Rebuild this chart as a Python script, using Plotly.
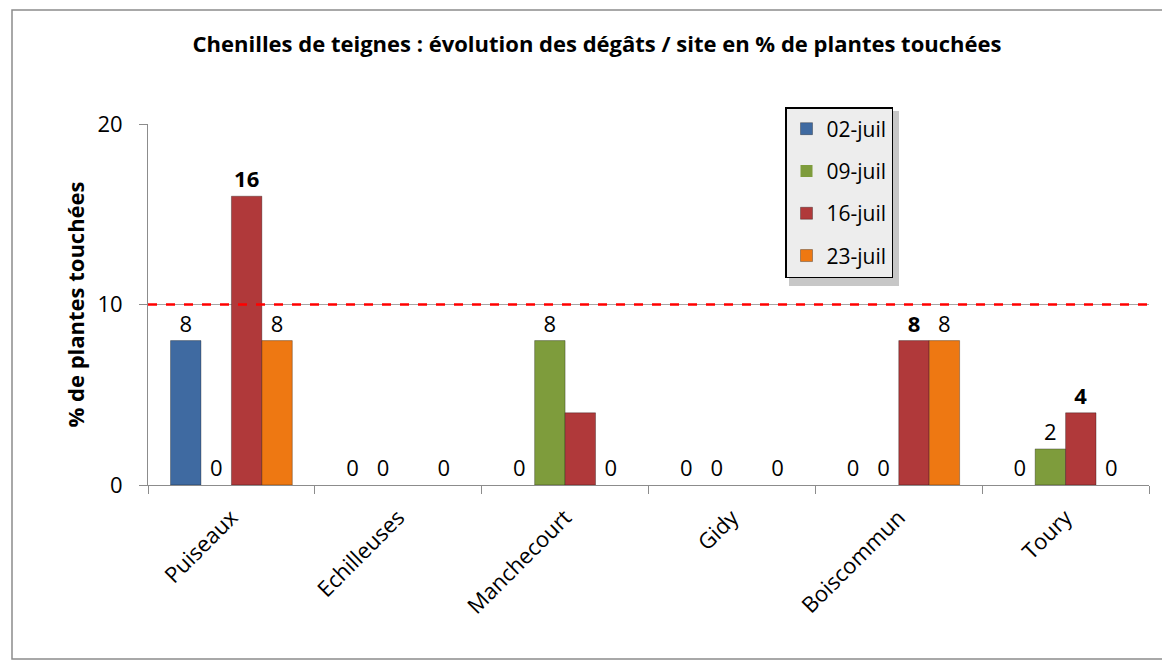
import plotly.graph_objects as go

sites = ["Puiseaux", "Echilleuses", "Manchecourt", "Gidy", "Boiscommun", "Toury"]
dates = ["02-juil", "09-juil", "16-juil", "23-juil"]
v_0207 = [8, 0, 0, 0, 0, 0]
v_0907 = [0, 0, 8, 0, 0, 2]
v_1607 = [16, None, 4, None, 8, 4]
v_2307 = [8, 0, 0, 0, 8, 0]
lbl_1607 = ["16", "", "", "", "8", "4"]
threshold = 10
colors = ["#3F6AA1", "#7E9C3C", "#B0393A", "#EE7812"]
title = "Chenilles de teignes : évolution des dégâts / site en % de plantes touchées"
ytitle = "% de plantes touchées"

FONT = "'Open Sans', Lato, sans-serif"
series = [v_0207, v_0907, v_1607, v_2307]

# page body has an 8px margin: figure pixel = screen pixel - 8
OFF = 8
PL, PT, PW, PH = 148 - OFF, 124 - OFF, 1001, 361

fig = go.Figure()
for i, (name, vals, col) in enumerate(zip(dates, series, colors)):
    if name == "16-juil":
        txt = lbl_1607
        tfont = dict(family=FONT, size=22, color="#000000", weight="bold")
    else:
        txt = ["" if v is None else str(v) for v in vals]
        tfont = dict(family=FONT, size=22, color="#000000")
    lw = [1 if v else 0 for v in vals]
    fig.add_trace(go.Bar(
        x=sites, y=vals, name=name, legendgroup=name,
        marker=dict(color=col, line=dict(color="rgba(0,0,0,0.3)", width=lw)),
        text=txt, textposition="outside", textfont=tfont,
        cliponaxis=False, textangle=0,
    ))

fig.add_shape(type="line", xref="paper", yref="y", x0=0, x1=1, y0=threshold, y1=threshold,
              line=dict(color="#FF0000", width=2.5, dash="dash"))
# outer chart border (screen pixel coords converted to paper)
def px(xs):
    return (xs - 148) / PW
def py(ys):
    return (485 - ys) / PH
fig.add_shape(type="rect", xref="paper", yref="paper",
              x0=px(12), x1=px(1167), y0=py(659), y1=py(10),
              line=dict(color="#8C8C8C", width=1.5), fillcolor="rgba(0,0,0,0)", layer="below")
# legend shadow
fig.add_shape(type="rect", xref="paper", yref="paper",
              x0=px(789), x1=px(899), y0=py(286), y1=py(111),
              line=dict(width=0), fillcolor="rgba(0,0,0,0.22)", layer="above")

fig.update_layout(
    width=1170, height=660,
    margin=dict(l=PL, r=1170 - PL - PW, t=PT, b=660 - PT - PH),
    paper_bgcolor="white", plot_bgcolor="white",
    barmode="group", bargap=0.27, bargroupgap=0,
    font=dict(family=FONT, color="#000000"),
    title=dict(text=title, x=(597 - OFF) / 1170, xanchor="center", y=1 - (44 - OFF) / 660, yanchor="middle",
               font=dict(family=FONT, size=22, color="#000000", weight="bold")),
    legend=dict(x=px(785), y=py(107), xanchor="left", yanchor="top",
                bgcolor="#EDEDED", bordercolor="#000000", borderwidth=1.5,
                font=dict(family=FONT, size=21, color="#000000"),
                tracegroupgap=12, traceorder="grouped", itemwidth=30),
    showlegend=True,
)
fig.update_xaxes(showline=True, linecolor="#8C8C8C", linewidth=1,
                 ticks="outside", ticklen=8, tickcolor="#8C8C8C", tickson="boundaries",
                 ticklabelstandoff=10,
                 tickangle=-45, tickfont=dict(family=FONT, size=22, color="#000000"),
                 showgrid=False)
fig.update_yaxes(range=[0, 20], tickvals=[0, 10, 20], showline=True, linecolor="#8C8C8C", linewidth=1,
                 ticks="outside", ticklen=8, tickcolor="#8C8C8C", ticklabelstandoff=12,
                 showgrid=True, gridcolor="#A6A6A6", gridwidth=1, zeroline=False,
                 tickfont=dict(family=FONT, size=22, color="#000000"),
                 title=dict(text=ytitle, standoff=6, font=dict(family=FONT, size=22, color="#000000", weight="bold")))

fig.write_html("out.html")
